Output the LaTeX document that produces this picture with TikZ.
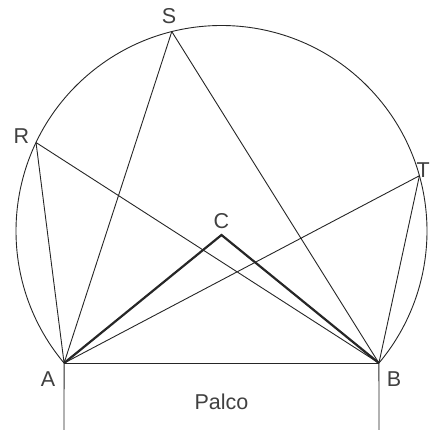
\documentclass[tikz,border=0pt]{standalone}
\usepackage{fontspec}
\setmainfont{Liberation Sans}
\usetikzlibrary{calc}
\begin{document}
\begin{tikzpicture}[x=1pt,y=1pt,
  ln/.style={draw=black!85, line width=0.9pt},
  thk/.style={draw=black!85, line width=2.2pt, line join=miter},
  lbl/.style={text=black!75, font=\fontsize{21.5}{21.5}\selectfont, inner sep=0pt}]
\useasboundingbox (0,0) rectangle (430,430);
\coordinate (O) at (221.5,199);
\def\rr{205.5}
\coordinate (A) at ($(O)+(220:\rr)$);
\coordinate (B) at ($(O)+(-40:\rr)$);
\coordinate (R) at ($(O)+(154.5:\rr)$);
\coordinate (S) at ($(O)+(104:\rr)$);
\coordinate (T) at ($(O)+(15.6:\rr)$);
\coordinate (C) at (221.5,195);
\coordinate (Ad) at (64,0);
\coordinate (Bd) at (379,0);
% arc
\draw[ln] (A) arc[start angle=220, end angle=-40, radius=\rr];
\draw[ln] (R) -- (A) (R) -- (B) (S) -- (A) (S) -- (B) (T) -- (A) (T) -- (B);
\draw[ln] (A) -- (B);
\draw[ln] (A) -- (Ad) (B) -- (Bd);
\draw[thk] (A) -- (C) -- (B);
\node[lbl] (lA) at (48,51) {A};
\node[lbl] (lB) at (394,51) {B};
\node[lbl] (lC) at (221.5,208.5) {C};
\node[lbl] (lR) at (21.5,293.5) {R};
\node[lbl] (lS) at (169,413.5) {S};
\node[lbl,anchor=east] (lT) at (430,260) {T};
\node[lbl] (lP) at (221.5,28) {Palco};
\end{tikzpicture}
\end{document}
